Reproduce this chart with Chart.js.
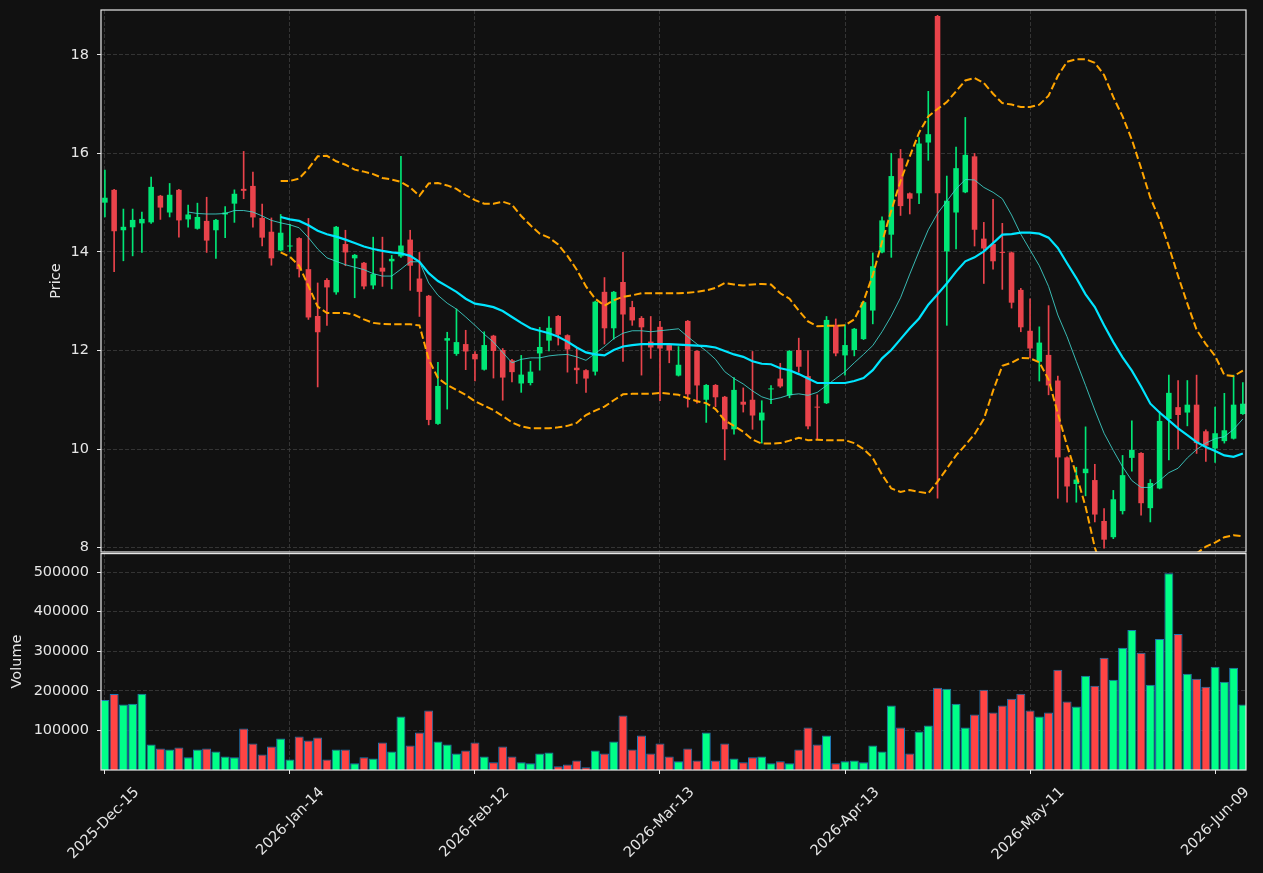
<!DOCTYPE html>
<html>
<head>
<meta charset="utf-8">
<title>Price and volume</title>
<script src="https://cdn.jsdelivr.net/npm/chart.js@4.4.1/dist/chart.umd.min.js"></script>
<style>
  html, body { margin: 0; padding: 0; background: #111111; }
  #wrap { position: relative; width: 1263px; height: 873px; background: #111111; }
  #priceCanvas { position: absolute; left: 0; top: 0; }
  #volCanvas { position: absolute; left: 0; top: 553px; }
</style>
</head>
<body>
<div id="wrap">
  <canvas id="priceCanvas" width="1263" height="553"></canvas>
  <canvas id="volCanvas" width="1263" height="320"></canvas>
</div>
<script>
// Data (one candle per trading day, index 0 = 2025-Dec-15)
const tickLabels = ['2025-Dec-15', '2026-Jan-14', '2026-Feb-12', '2026-Mar-13', '2026-Apr-13', '2026-May-11', '2026-Jun-09'];
const priceTicks = [8, 10, 12, 14, 16, 18];
const volumeTicks = [100000, 200000, 300000, 400000, 500000];

const opens = [
  15.00, 15.26, 14.44, 14.50, 14.58, 14.60, 15.14, 14.80, 15.26, 14.66,
  14.47, 14.63, 14.44, 14.76, 14.98, 15.28, 15.34, 14.69, 14.41, 14.03,
  14.11, 14.28, 13.65, 12.70, 13.43, 13.18, 14.16, 13.87, 13.78, 13.32,
  13.68, 13.81, 13.91, 14.25, 13.46, 13.11, 10.51, 12.20, 11.93, 12.13,
  11.93, 11.61, 12.30, 12.01, 11.80, 11.33, 11.34, 11.94, 12.20, 12.70,
  12.31, 11.65, 11.60, 11.57, 13.19, 12.45, 13.39, 12.88, 12.66, 12.18,
  12.48, 12.11, 11.49, 12.60, 11.99, 11.00, 11.30, 11.06, 10.40, 10.96,
  11.00, 10.58, 11.21, 11.43, 11.09, 12.01, 11.48, 10.86, 10.93, 12.52,
  11.90, 12.01, 12.23, 12.81, 13.99, 14.35, 15.90, 15.19, 15.19, 16.22,
  18.79, 14.01, 14.80, 15.21, 15.94, 14.27, 14.16, 14.00, 13.99, 13.23,
  12.40, 11.77, 11.91, 11.39, 9.83, 9.29, 9.51, 9.37, 8.54, 8.21,
  8.74, 9.82, 9.92, 8.80, 9.20, 10.61, 10.85, 10.74, 10.90, 10.36,
  10.01, 10.16, 10.21, 10.71
];
const highs = [
  15.66, 15.27, 14.87, 14.87, 14.81, 15.52, 15.15, 15.39, 15.27, 14.95,
  14.99, 15.11, 14.66, 14.92, 15.26, 16.04, 15.62, 14.97, 14.69, 14.76,
  14.56, 14.29, 14.68, 13.37, 13.46, 14.52, 14.44, 13.95, 13.79, 14.30,
  14.30, 13.93, 15.94, 14.44, 13.99, 13.12, 11.76, 12.37, 12.84, 12.41,
  11.98, 12.38, 12.31, 12.04, 11.82, 11.90, 11.78, 12.47, 12.69, 12.71,
  12.32, 12.06, 11.61, 13.00, 13.48, 13.20, 13.99, 13.00, 12.69, 12.69,
  12.59, 12.12, 12.08, 12.61, 12.00, 11.31, 11.31, 11.07, 11.45, 11.24,
  11.98, 10.98, 11.29, 11.74, 12.00, 12.25, 12.00, 11.10, 12.69, 12.64,
  12.52, 12.45, 13.00, 13.98, 14.71, 16.00, 16.08, 15.20, 16.32, 17.26,
  18.80, 15.54, 16.13, 16.73, 16.00, 14.60, 15.07, 14.58, 14.00, 13.26,
  13.05, 12.48, 12.91, 11.48, 9.84, 9.63, 10.45, 9.69, 8.79, 9.16,
  9.87, 10.57, 9.93, 9.38, 10.76, 11.50, 11.39, 11.39, 11.50, 10.39,
  10.85, 11.13, 11.50, 11.35
];
const lows = [
  14.71, 13.60, 13.82, 13.92, 13.99, 14.58, 14.66, 14.71, 14.30, 14.50,
  14.46, 13.99, 13.87, 14.29, 14.60, 15.08, 14.50, 14.12, 13.73, 14.02,
  14.01, 13.49, 12.63, 11.26, 12.51, 13.14, 13.72, 13.07, 13.25, 13.25,
  13.30, 13.25, 13.89, 13.22, 12.69, 10.49, 10.50, 10.81, 11.90, 11.61,
  11.38, 11.60, 11.44, 10.99, 11.36, 11.15, 11.30, 11.60, 11.99, 12.11,
  11.56, 11.33, 11.15, 11.50, 12.13, 12.23, 11.78, 12.51, 11.50, 11.84,
  10.98, 11.75, 11.48, 10.85, 10.93, 10.54, 10.86, 9.78, 10.30, 10.75,
  10.40, 10.12, 10.92, 11.25, 11.04, 11.56, 10.41, 10.19, 10.92, 11.89,
  11.50, 11.89, 12.22, 12.54, 13.98, 13.89, 14.74, 14.77, 14.98, 15.86,
  9.00, 12.51, 14.06, 15.20, 14.12, 13.36, 13.65, 13.24, 12.86, 12.38,
  11.85, 11.38, 11.10, 9.00, 8.92, 8.92, 9.05, 8.52, 7.99, 8.18,
  8.68, 9.55, 8.66, 8.52, 9.19, 9.78, 10.00, 10.47, 9.91, 9.75,
  9.73, 10.12, 10.20, 10.70
];
const closes = [
  15.10, 14.42, 14.51, 14.65, 14.67, 15.32, 14.90, 15.16, 14.64, 14.76,
  14.71, 14.23, 14.65, 14.80, 15.18, 15.24, 14.70, 14.29, 13.87, 14.39,
  14.12, 13.65, 12.67, 12.37, 13.28, 14.51, 13.99, 13.94, 13.30, 13.55,
  13.60, 13.86, 14.13, 13.72, 13.19, 10.59, 11.28, 12.25, 12.17, 11.98,
  11.82, 12.11, 11.99, 11.45, 11.56, 11.51, 11.57, 12.07, 12.46, 12.32,
  12.02, 11.60, 11.43, 12.99, 12.45, 13.19, 12.73, 12.61, 12.47, 12.06,
  12.04, 12.00, 11.71, 11.11, 11.29, 11.30, 11.05, 10.40, 11.20, 10.90,
  10.68, 10.74, 11.22, 11.27, 11.99, 11.67, 10.46, 10.84, 12.62, 11.94,
  12.11, 12.44, 12.98, 13.71, 14.64, 15.54, 14.93, 15.08, 16.20, 16.39,
  15.19, 15.04, 15.70, 15.97, 14.45, 14.07, 13.81, 13.98, 12.97, 12.47,
  12.04, 12.16, 11.29, 9.83, 9.24, 9.38, 9.60, 8.67, 8.16, 8.98,
  9.47, 9.98, 8.90, 9.31, 10.57, 11.14, 10.69, 10.90, 10.12, 10.07,
  10.32, 10.38, 10.90, 10.92
];
const volumes = [
  176900, 192000, 165100, 167600, 192800, 64500, 54500, 52000, 57000, 31900,
  52000, 54500, 46900, 34400, 31900, 104800, 67100, 39400, 59500, 79600,
  26800, 84700, 74600, 82100, 26800, 52000, 52000, 16800, 31900, 29300,
  69600, 46900, 135000, 62000, 94700, 150000, 72100, 64500, 41900, 49500,
  69600, 34400, 19300, 59500, 34400, 19300, 16800, 41900, 44400, 9200,
  14200, 24300, 6700, 49500, 41900, 72100, 137500, 52000, 87200, 41900,
  67100, 34400, 21800, 54500, 24300, 94700, 24300, 67100, 29300, 19300,
  31900, 34400, 16800, 21800, 16800, 52000, 107300, 64500, 87200, 16800,
  21800, 24300, 19300, 62000, 46900, 162600, 107300, 41900, 97200, 112300,
  207900, 205400, 167600, 107300, 140000, 202800, 145000, 162600, 180200, 192800,
  150000, 135000, 145000, 253100, 172700, 160100, 238100, 212900, 283300, 228000,
  308500, 353700, 295900, 215400, 331100, 497100, 343700, 243100, 230500, 210400,
  260700, 223000, 258200, 165100
];

// 10-day average, first value at index 9
const sma10 = [
  14.81, 14.78, 14.77, 14.77, 14.78, 14.84, 14.84, 14.81, 14.73, 14.64,
  14.59, 14.55, 14.49, 14.29, 14.06, 13.88, 13.81, 13.74, 13.69, 13.64,
  13.56, 13.51, 13.51, 13.65, 13.80, 13.80, 13.37, 13.12, 12.96, 12.84,
  12.68, 12.51, 12.33, 12.17, 11.96, 11.75, 11.82, 11.85, 11.85, 11.89,
  11.91, 11.92, 11.87, 11.80, 11.94, 12.08, 12.24, 12.35, 12.40, 12.40,
  12.38, 12.40, 12.42, 12.44, 12.28, 12.13, 11.99, 11.82, 11.57, 11.43,
  11.32, 11.18, 11.06, 11.00, 11.04, 11.10, 11.12, 11.09, 11.15, 11.29,
  11.43, 11.57, 11.75, 11.92, 12.10, 12.38, 12.70, 13.07, 13.55, 14.01,
  14.45, 14.78, 15.03, 15.28, 15.47, 15.46, 15.31, 15.21, 15.08, 14.75,
  14.36, 14.04, 13.72, 13.30, 12.72, 12.28, 11.78, 11.29, 10.79, 10.32,
  9.97, 9.64, 9.36, 9.22, 9.22, 9.36, 9.52, 9.61, 9.82, 9.99,
  10.12, 10.21, 10.25, 10.40, 10.61
];
// 20-day average and its bands, first value at index 19
const sma20 = [
  14.71, 14.66, 14.63, 14.54, 14.43, 14.36, 14.31, 14.25, 14.18, 14.11,
  14.06, 14.02, 13.99, 13.97, 13.92, 13.80, 13.57, 13.41, 13.30, 13.19,
  13.05, 12.95, 12.92, 12.88, 12.80, 12.68, 12.56, 12.45, 12.40, 12.35,
  12.28, 12.18, 12.06, 11.96, 11.92, 11.90, 12.01, 12.08, 12.11, 12.13,
  12.13, 12.13, 12.13, 12.12, 12.11, 12.10, 12.09, 12.06, 11.99, 11.92,
  11.87, 11.78, 11.73, 11.72, 11.64, 11.60, 11.52, 11.43, 11.34, 11.34,
  11.34, 11.34, 11.38, 11.44, 11.60, 11.84, 12.01, 12.23, 12.45, 12.65,
  12.93, 13.14, 13.36, 13.60, 13.81, 13.89, 14.01, 14.18, 14.35, 14.36,
  14.39, 14.39, 14.37, 14.29, 14.08, 13.77, 13.47, 13.14, 12.88, 12.51,
  12.17, 11.86, 11.59, 11.27, 10.92, 10.74, 10.58, 10.42, 10.28, 10.14,
  10.04, 9.96, 9.87, 9.84, 9.91
];
const bbUpper = [
  15.44, 15.44, 15.49, 15.69, 15.94, 15.95, 15.84, 15.77, 15.67, 15.63,
  15.58, 15.50, 15.47, 15.42, 15.31, 15.14, 15.39, 15.40, 15.35, 15.28,
  15.15, 15.05, 14.98, 14.98, 15.02, 14.96, 14.73, 14.54, 14.37, 14.29,
  14.15, 13.92, 13.64, 13.30, 13.05, 12.91, 13.02, 13.09, 13.12, 13.16,
  13.16, 13.16, 13.16, 13.16, 13.17, 13.19, 13.22, 13.27, 13.37, 13.34,
  13.32, 13.34, 13.35, 13.34, 13.16, 13.05, 12.81, 12.59, 12.49, 12.50,
  12.50, 12.51, 12.63, 13.00, 13.53, 14.20, 14.84, 15.44, 15.94, 16.42,
  16.75, 16.90, 17.04, 17.26, 17.48, 17.53, 17.43, 17.21, 17.02, 16.99,
  16.94, 16.94, 16.99, 17.17, 17.57, 17.86, 17.91, 17.91, 17.84, 17.59,
  17.14, 16.75, 16.28, 15.70, 15.10, 14.66, 14.11, 13.51, 12.95, 12.42,
  12.13, 11.89, 11.50, 11.48, 11.59
];
const bbLower = [
  13.99, 13.90, 13.72, 13.31, 12.89, 12.76, 12.76, 12.76, 12.72, 12.63,
  12.56, 12.54, 12.53, 12.53, 12.53, 12.51, 11.82, 11.44, 11.30, 11.20,
  11.10, 10.97, 10.88, 10.79, 10.67, 10.54, 10.46, 10.42, 10.42, 10.42,
  10.44, 10.47, 10.53, 10.69, 10.78, 10.86, 10.99, 11.11, 11.12, 11.12,
  11.12, 11.14, 11.12, 11.10, 11.03, 10.97, 10.93, 10.81, 10.58, 10.47,
  10.35, 10.19, 10.11, 10.11, 10.12, 10.17, 10.23, 10.18, 10.19, 10.18,
  10.18, 10.18, 10.12, 10.00, 9.82, 9.48, 9.20, 9.13, 9.17, 9.13,
  9.10, 9.34, 9.60, 9.87, 10.08, 10.30, 10.61, 11.18, 11.69, 11.75,
  11.85, 11.84, 11.76, 11.41, 10.72, 10.07, 9.48, 8.83, 8.00, 7.45,
  7.20, 7.00, 6.90, 6.85, 6.80, 6.85, 7.05, 7.30, 7.60, 7.88,
  8.02, 8.10, 8.21, 8.25, 8.23
];

// Styling
const UP = '#00e676';
const DOWN = '#e9434b';
const VOL_UP = '#00ff88';
const VOL_DOWN = '#ff4444';
const TEXT = '#e6e6e6';
const GRID = '#3e3e3e';

Chart.defaults.font.family = "'DejaVu Sans', sans-serif";
Chart.defaults.font.size = 14.5;
Chart.defaults.color = TEXT;

const tickIdx = tickLabels.map((_, k) => k * 20);
const isUp = closes.map((c, i) => c >= opens[i]);
const candleColors = isUp.map(u => (u ? UP : DOWN));
const volColors = isUp.map(u => (u ? VOL_UP : VOL_DOWN));

const bodies = opens.map((o, i) => ({ x: i, y: [o, closes[i]] }));
const wicks = lows.map((l, i) => ({ x: i, y: [l, highs[i]] }));
const volBars = volumes.map((v, i) => ({ x: i, y: v }));
const toPoints = (vals, start) => vals.map((v, k) => ({ x: start + k, y: v }));

// white frame round each panel
const panelBorder = {
  id: 'panelBorder',
  afterDraw(chart) {
    const { ctx, chartArea: a } = chart;
    ctx.save();
    ctx.strokeStyle = '#e8e8e8';
    ctx.lineWidth = 1.2;
    const top = Math.max(a.top, 0.6);
    ctx.strokeRect(a.left, top, a.right - a.left, a.bottom - top);
    ctx.restore();
  }
};

// fixed y-axis box: no extra room asked for the end labels
const fixYAxis = (s) => {
  s.width = 101;
  s.paddingTop = 0;
  s.paddingBottom = 0;
};

const xBase = {
  type: 'linear',
  min: -0.42,
  max: 123.34,
  offset: false,
  afterBuildTicks: (scale) => { scale.ticks = tickIdx.map(v => ({ value: v })); },
  border: { display: false, dash: [4, 2] },
};

// Price panel
const priceChart = new Chart(document.getElementById('priceCanvas'), {
  type: 'bar',
  data: {
    datasets: [
      { type: 'line', data: toPoints(bbUpper, 19), borderColor: '#ffa500', borderWidth: 2,
        borderDash: [7.4, 3.2], pointRadius: 0, tension: 0, clip: 0, order: 1 },
      { type: 'line', data: toPoints(bbLower, 19), borderColor: '#ffa500', borderWidth: 2,
        borderDash: [7.4, 3.2], pointRadius: 0, tension: 0, clip: 0, order: 1 },
      { type: 'line', data: toPoints(sma20, 19), borderColor: '#00e5ff', borderWidth: 2.2,
        pointRadius: 0, tension: 0, clip: 0, order: 0 },
      { type: 'line', data: toPoints(sma10, 9), borderColor: 'rgba(64,214,206,0.85)', borderWidth: 1,
        pointRadius: 0, tension: 0, clip: 0, order: 0 },
      { data: bodies, backgroundColor: candleColors, grouped: false,
        barPercentage: 0.6, categoryPercentage: 1, minBarLength: 1, order: 5 },
      { data: wicks, backgroundColor: candleColors, grouped: false, barThickness: 1, order: 6 }
    ]
  },
  options: {
    responsive: false,
    animation: false,
    layout: { padding: { left: 0, right: 17, top: 10, bottom: 1 } },
    plugins: { legend: { display: false }, tooltip: { enabled: false } },
    scales: {
      x: {
        ...xBase,
        ticks: { display: false },
        grid: { color: GRID, lineWidth: 0.8, drawTicks: false, offset: false },
        afterFit: (s) => { s.height = 0; s.paddingLeft = 0; s.paddingRight = 0; }
      },
      y: {
        min: 7.91,
        max: 18.91,
        afterBuildTicks: (scale) => { scale.ticks = priceTicks.map(v => ({ value: v })); },
        ticks: { padding: 8, color: TEXT },
        grid: { color: GRID, lineWidth: 0.8, tickLength: 4, tickColor: TEXT, tickWidth: 1, tickBorderDash: [] },
        border: { display: false, dash: [4, 2] },
        title: { display: true, text: 'Price', color: TEXT, padding: { top: 47.5, bottom: 0 } },
        afterFit: fixYAxis
      }
    }
  },
  plugins: [panelBorder]
});

// Volume panel
const volChart = new Chart(document.getElementById('volCanvas'), {
  type: 'bar',
  data: {
    datasets: [
      { data: volBars, backgroundColor: volColors, borderColor: '#1f77b4', borderWidth: 1,
        grouped: false, barPercentage: 0.97, categoryPercentage: 1 }
    ]
  },
  options: {
    responsive: false,
    animation: false,
    layout: { padding: { left: 0, right: 17, top: 0, bottom: 0 } },
    plugins: { legend: { display: false }, tooltip: { enabled: false } },
    scales: {
      x: {
        ...xBase,
        ticks: {
          autoSkip: false, minRotation: 45, maxRotation: 45, padding: 10, labelOffset: 32, color: TEXT,
          callback: (v) => tickLabels[v / 20]
        },
        grid: { color: GRID, lineWidth: 0.8, offset: false, tickLength: 4, tickColor: TEXT, tickWidth: 1, tickBorderDash: [] },
        afterFit: (s) => { s.height = 103; s.paddingLeft = 0; s.paddingRight = 0; }
      },
      y: {
        min: 0,
        max: 548000,
        afterBuildTicks: (scale) => { scale.ticks = volumeTicks.map(v => ({ value: v })); },
        ticks: { padding: 8, color: TEXT, callback: (v) => String(v) },
        grid: { color: GRID, lineWidth: 0.8, tickLength: 4, tickColor: TEXT, tickWidth: 1, tickBorderDash: [] },
        border: { display: false, dash: [4, 2] },
        title: { display: true, text: 'Volume', color: TEXT, padding: { top: 8.3, bottom: 0 } },
        afterFit: fixYAxis
      }
    }
  },
  plugins: [panelBorder]
});
</script>
</body>
</html>
